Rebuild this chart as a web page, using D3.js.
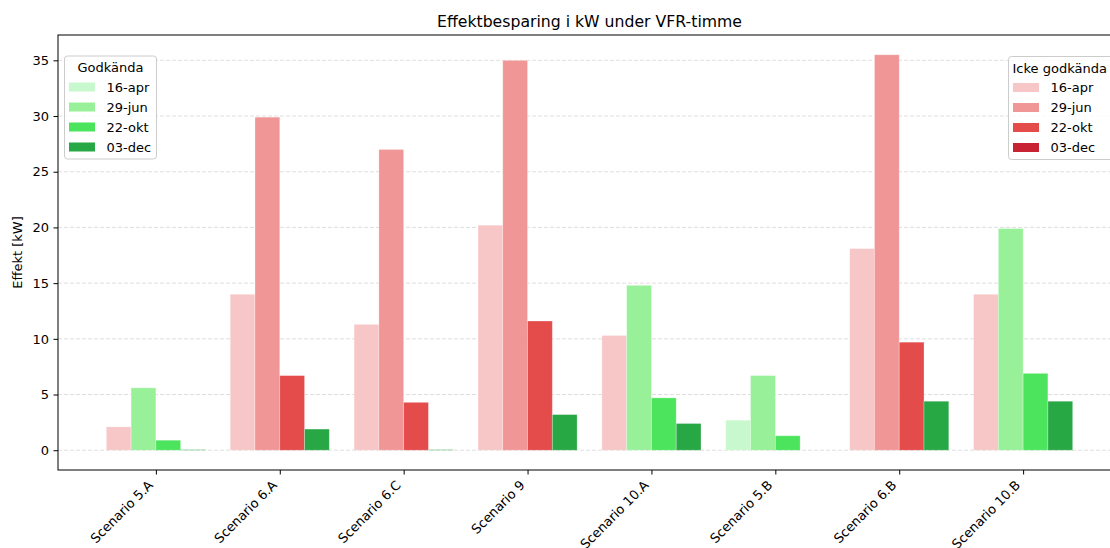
<!DOCTYPE html>
<html><head><meta charset="utf-8">
<script src="https://cdn.jsdelivr.net/npm/d3@7"></script>
<style>body{margin:0;background:#fff}svg{display:block;font-family:"DejaVu Sans",sans-serif}</style>
</head><body><svg id="c" width="1110" height="548"></svg>
<script>
const scenarios = ["Scenario 5.A","Scenario 6.A","Scenario 6.C","Scenario 9","Scenario 10.A","Scenario 5.B","Scenario 6.B","Scenario 10.B"];
const dates = ["16-apr","29-jun","22-okt","03-dec"];
const apr16 = [2.1, 14.0, 11.3, 20.2, 10.3, 2.7, 18.1, 14.0];
const jun29 = [5.6, 29.9, 27.0, 35.0, 14.8, 6.7, 35.5, 19.9];
const okt22 = [0.9, 6.7, 4.3, 11.6, 4.7, 1.3, 9.7, 6.9];
const dec03 = [0.05, 1.9, 0.05, 3.2, 2.4, 0, 4.4, 4.4];
// godkänd (approved) flags per scenario for each date
const okApr = [false,false,false,false,false,true,false,false];
const okJun = [true,false,false,false,true,true,false,true];
const okOkt = [true,false,false,false,true,true,false,true];
const okDec = [true,true,true,true,true,true,true,true];
const greenColors = ["#c8f8cd","#98f098","#4de45d","#28a745"];
const redColors = ["#f7c7c7","#f09696","#e44b4b","#c82333"];
const yTicks = [0,5,10,15,20,25,30,35];

const values = [apr16, jun29, okt22, dec03];
const oks = [okApr, okJun, okOkt, okDec];

const svg = d3.select("#c");
const L = 58, R = 1121, T = 35, B = 470;
const fs = 13.0;

const x = d3.scaleLinear().domain([-0.79, 7.79]).range([L, R]);
const y = d3.scaleLinear().domain([-1.775, 37.275]).range([B, T]);

// grid
svg.append("g").selectAll("line").data(yTicks).join("line")
  .attr("x1", L).attr("x2", R).attr("y1", d => y(d)).attr("y2", d => y(d))
  .attr("stroke", "#b0b0b0").attr("stroke-opacity", 0.45).attr("stroke-width", 0.9)
  .attr("stroke-dasharray", "4,2");

// bars
const bw = 0.2;
const bars = [];
dates.forEach((dt, j) => {
  scenarios.forEach((s, i) => {
    bars.push({i, j, v: values[j][i], ok: oks[j][i]});
  });
});
svg.append("g").selectAll("rect").data(bars).join("rect")
  .attr("x", d => x(d.i + (d.j - 2) * bw))
  .attr("width", d => x(bw) - x(0))
  .attr("y", d => y(Math.max(d.v, 0)))
  .attr("height", d => Math.max(y(0) - y(d.v), 0))
  .attr("fill", d => d.ok ? greenColors[d.j] : redColors[d.j])
  .attr("stroke", "#ffffff").attr("stroke-opacity", 0.35).attr("stroke-width", 0.8);

// spines
svg.append("rect").attr("x", L).attr("y", T).attr("width", R - L).attr("height", B - T)
  .attr("fill", "none").attr("stroke", "#000").attr("stroke-width", 1);

// y axis
const yAxis = svg.append("g").attr("transform", `translate(${L},0)`)
  .call(d3.axisLeft(y).tickValues(yTicks).tickSize(4.5).tickPadding(4.5).tickFormat(d3.format("d")));
yAxis.select(".domain").remove();
yAxis.selectAll("text").attr("font-size", fs).attr("fill", "#000").attr("font-family", "DejaVu Sans");
yAxis.selectAll("line").attr("stroke", "#000");

// x axis
const xAxis = svg.append("g").attr("transform", `translate(0,${B})`)
  .call(d3.axisBottom(x).tickValues(d3.range(scenarios.length)).tickSize(4.5).tickFormat(i => scenarios[i]));
xAxis.select(".domain").remove();
xAxis.selectAll("line").attr("stroke", "#000");
xAxis.selectAll("text")
  .attr("font-size", fs).attr("fill", "#000").attr("font-family", "DejaVu Sans")
  .attr("text-anchor", "end").attr("dy", null).attr("y", null)
  .attr("transform", "translate(-2.5,16) rotate(-45)");

// title
svg.append("text").attr("x", (L + R) / 2).attr("y", 26.5).attr("text-anchor", "middle")
  .attr("font-size", 15.7).text("Effektbesparing i kW under VFR-timme");

// y label
svg.append("text").attr("transform", `translate(22,${(T + B) / 2}) rotate(-90)`)
  .attr("text-anchor", "middle").attr("font-size", fs).text("Effekt [kW]");

// legends
function legend(x0, y0, w, title, colors, titleX, titleAnchor) {
  const g = svg.append("g");
  g.append("rect").attr("x", x0).attr("y", y0).attr("width", w).attr("height", 103)
    .attr("rx", 3).attr("fill", "#fff").attr("fill-opacity", 0.8)
    .attr("stroke", "#cccccc").attr("stroke-width", 1);
  g.append("text").attr("x", titleX).attr("y", y0 + 16).attr("text-anchor", titleAnchor)
    .attr("font-size", fs).text(title);
  const rows = g.selectAll("g").data(dates).join("g")
    .attr("transform", (d, k) => `translate(${x0 + 4.5},${y0 + 31 + k * 20})`);
  rows.append("rect").attr("width", 26).attr("height", 9).attr("y", -4.5)
    .attr("fill", (d, k) => colors[k]);
  rows.append("text").attr("x", 37.5).attr("dy", "0.36em").attr("font-size", fs).text(d => d);
}
legend(64.5, 56, 92, "Godkända", greenColors, 110.5, "middle");
legend(1008.5, 56.5, 105, "Icke godkända", redColors, 1012.5, "start");
</script></body></html>
